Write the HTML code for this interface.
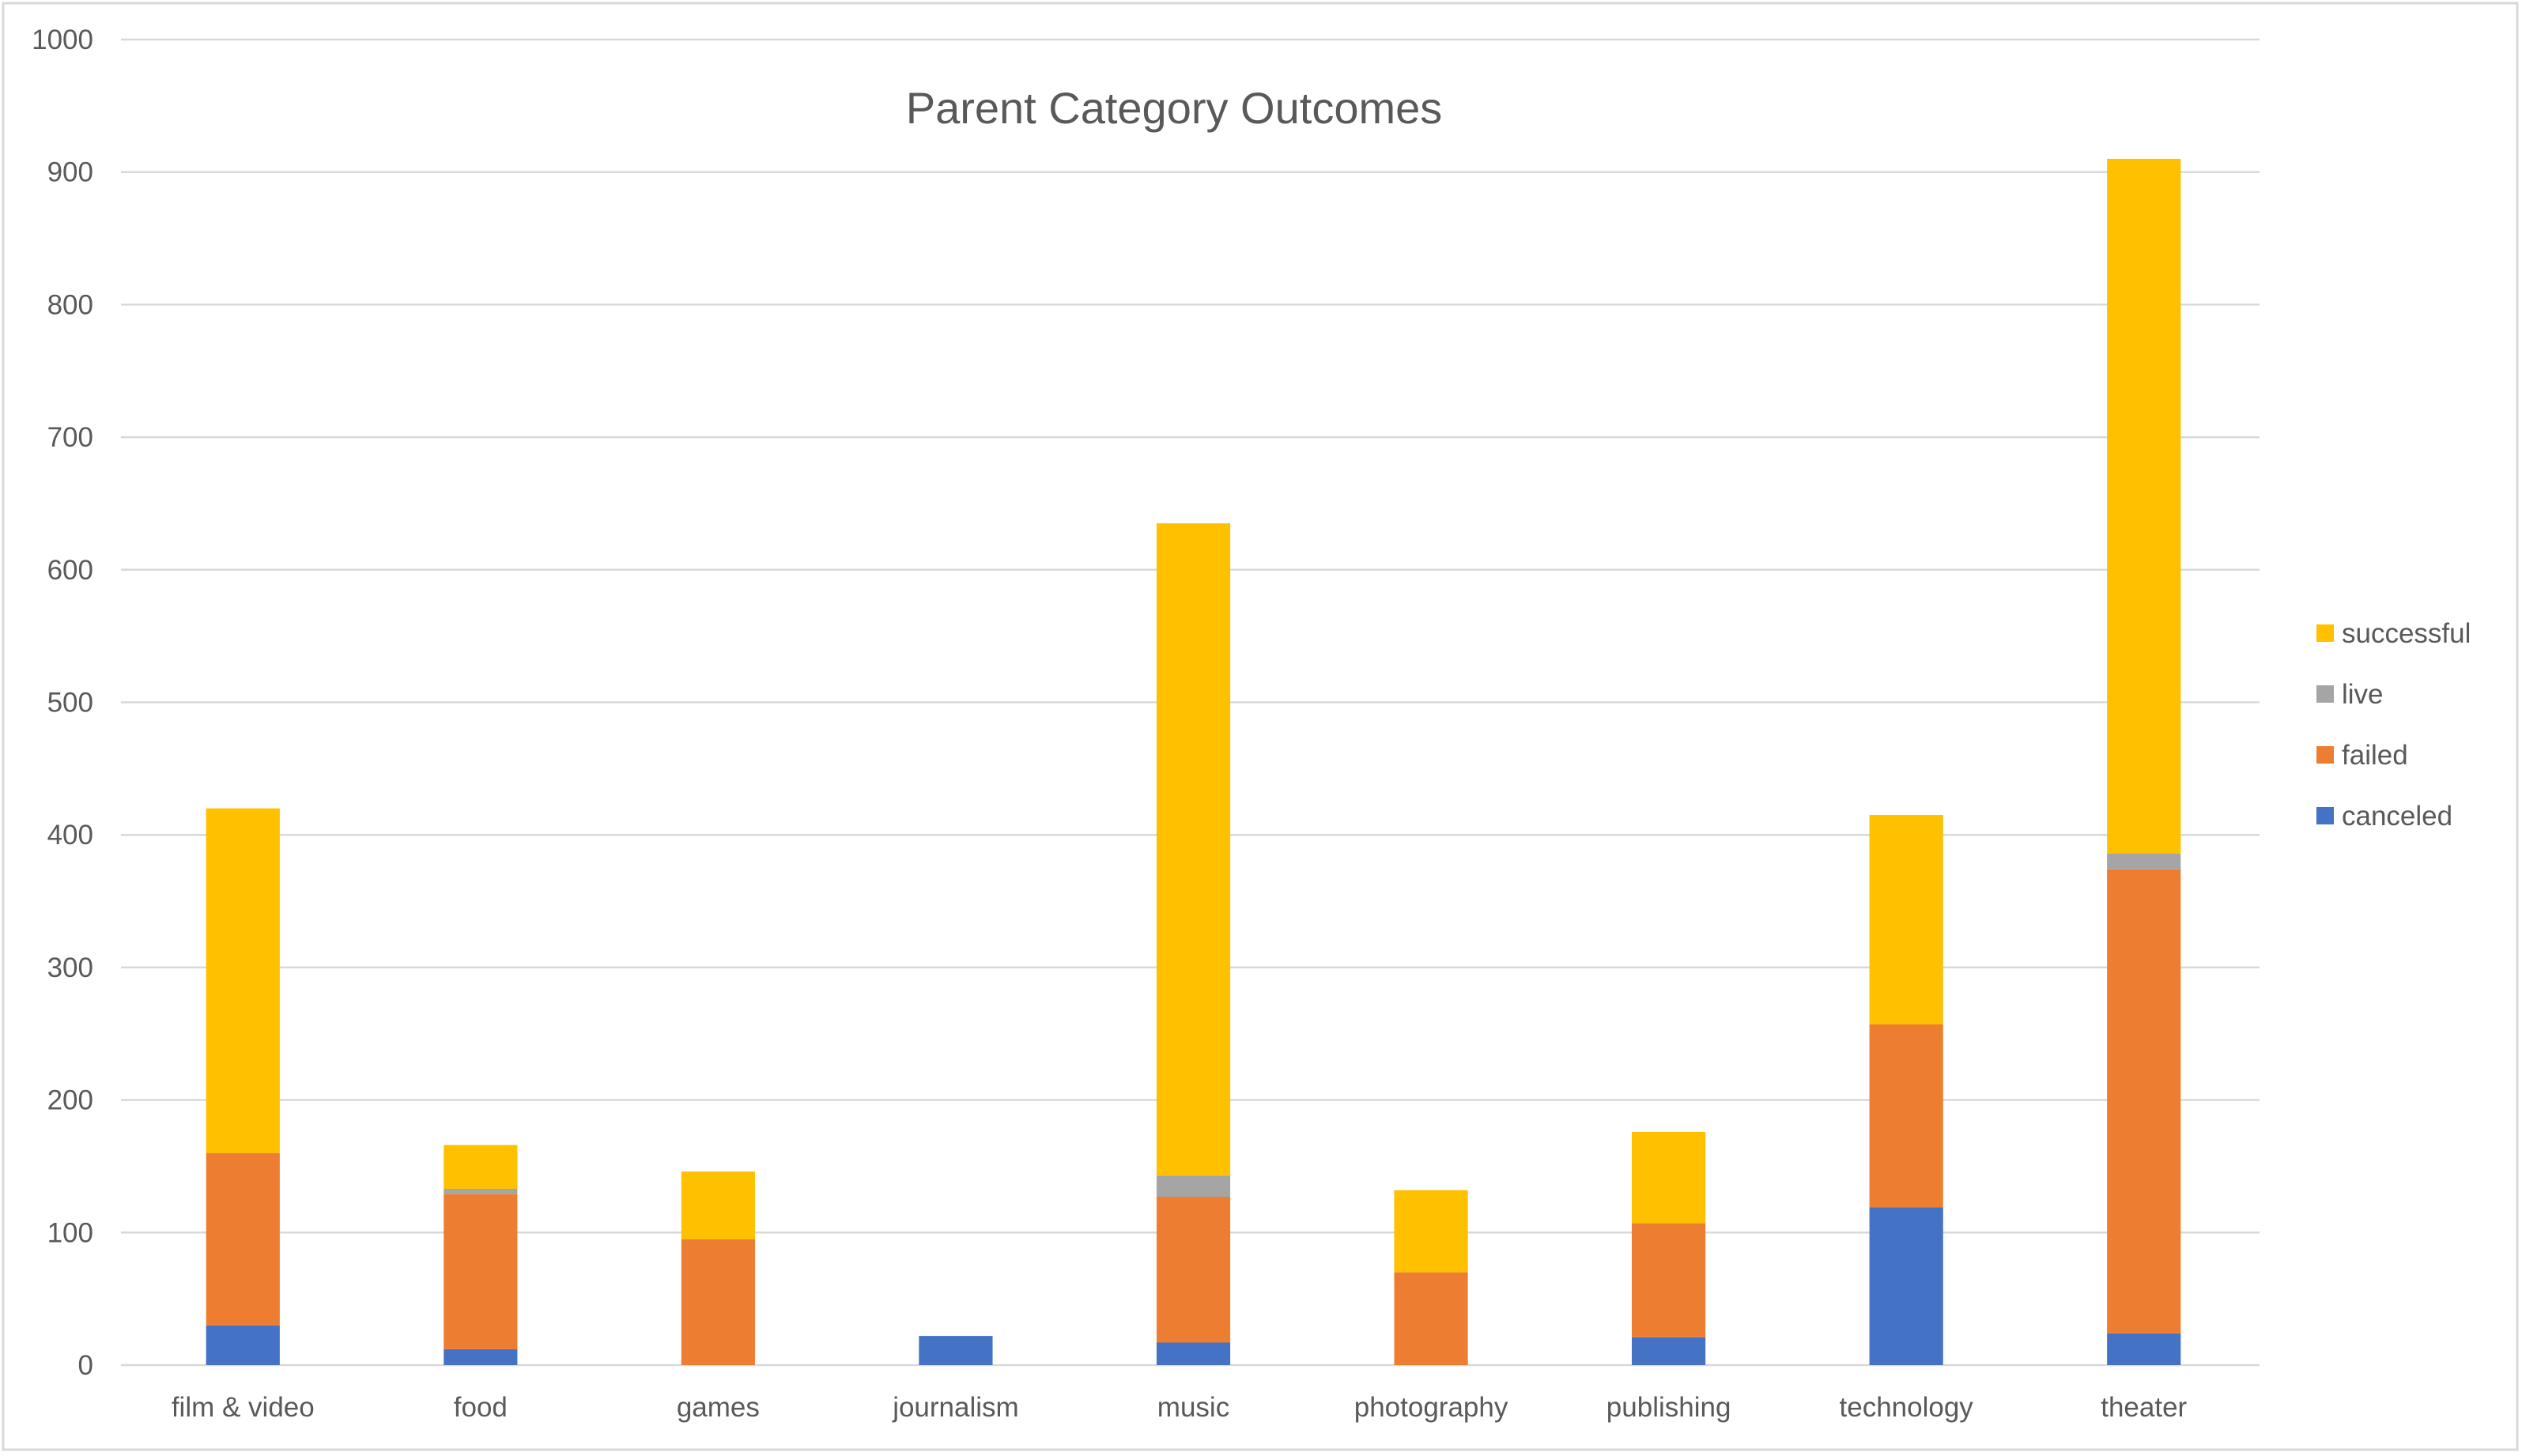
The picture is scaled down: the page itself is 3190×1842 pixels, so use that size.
<!DOCTYPE html>
<html><head><meta charset="utf-8"><style>
html,body{margin:0;padding:0;background:#fff;}
svg{display:block;font-family:"Liberation Sans",sans-serif;}
</style></head><body>
<svg id="chart" width="3190" height="1842" viewBox="0 0 3190 1842">
<rect x="4" y="4" width="3180" height="1830" fill="#fff" stroke="#d9d9d9" stroke-width="3"/>
<text x="1485" y="156" font-size="56" fill="#595959" text-anchor="middle">Parent Category Outcomes</text>
<g id="grid"></g><g id="bars"></g><g id="xlabels"></g><g id="ylabels"></g><g id="legend"></g>
</svg>
<script>
const categories=["film & video","food","games","journalism","music","photography","publishing","technology","theater"];
const canceled=[30,12,0,22,17,0,21,119,24];
const failed=[130,117,95,0,110,70,86,138,350];
const live=[0,4,0,0,16,0,0,0,12];
const successful=[260,33,51,0,492,62,69,158,524];
const yTicks=[0,100,200,300,400,500,600,700,800,900,1000];
const seriesNames=["canceled","failed","live","successful"];
const NS="http://www.w3.org/2000/svg";
const colors=["#4472C4","#ED7D31","#A5A5A5","#FFC000"];
const series=[canceled,failed,live,successful];
const left=157,right=2862,y0=1727,y1=50,yMax=1000;
const yS=v=>y0-(v/yMax)*(y0-y1);
const band=(right-left)/categories.length;
const xC=i=>left+band*(i+0.5);
const bw=band*0.31;
function mk(tag,attrs,parent){const e=document.createElementNS(NS,tag);for(const k in attrs)e.setAttribute(k,attrs[k]);parent.appendChild(e);return e;}
const g=document.getElementById('grid'),yl=document.getElementById('ylabels');
yTicks.forEach(t=>{
 const l=mk('line',{x1:153,x2:2858,y1:yS(t),y2:yS(t),stroke:'#d9d9d9','stroke-width':2.5},g);
 
 
 const tx=mk('text',{x:118,y:yS(t)+12,'font-size':35,fill:'#595959','text-anchor':'end'},yl);
 tx.textContent=t;
 
 
});
const bg=document.getElementById('bars'),xl=document.getElementById('xlabels');
categories.forEach((c,i)=>{
 let base=0;
 series.forEach((s,k)=>{
  const v=s[i];
  if(v>0){
   const r=mk('rect',{x:xC(i)-bw/2,y:yS(base+v),width:bw,height:yS(base)-yS(base+v),fill:colors[k]},bg);
   
   
  }
  base+=v;
 });
 const tx=mk('text',{x:xC(i),y:1792,'font-size':35,fill:'#595959','text-anchor':'middle'},xl);
 tx.textContent=c;
 
 
});
const lg=document.getElementById('legend');
[3,2,1,0].forEach((k,j)=>{
 const y=801+j*77;
 const r=mk('rect',{x:2930,y:y-11,width:22,height:22,fill:colors[k]},lg);
 
 
 const t=mk('text',{x:2962,y:y+12,'font-size':35,fill:'#595959'},lg);
 t.textContent=seriesNames[k];
 
 
});
</script>
</body></html>
